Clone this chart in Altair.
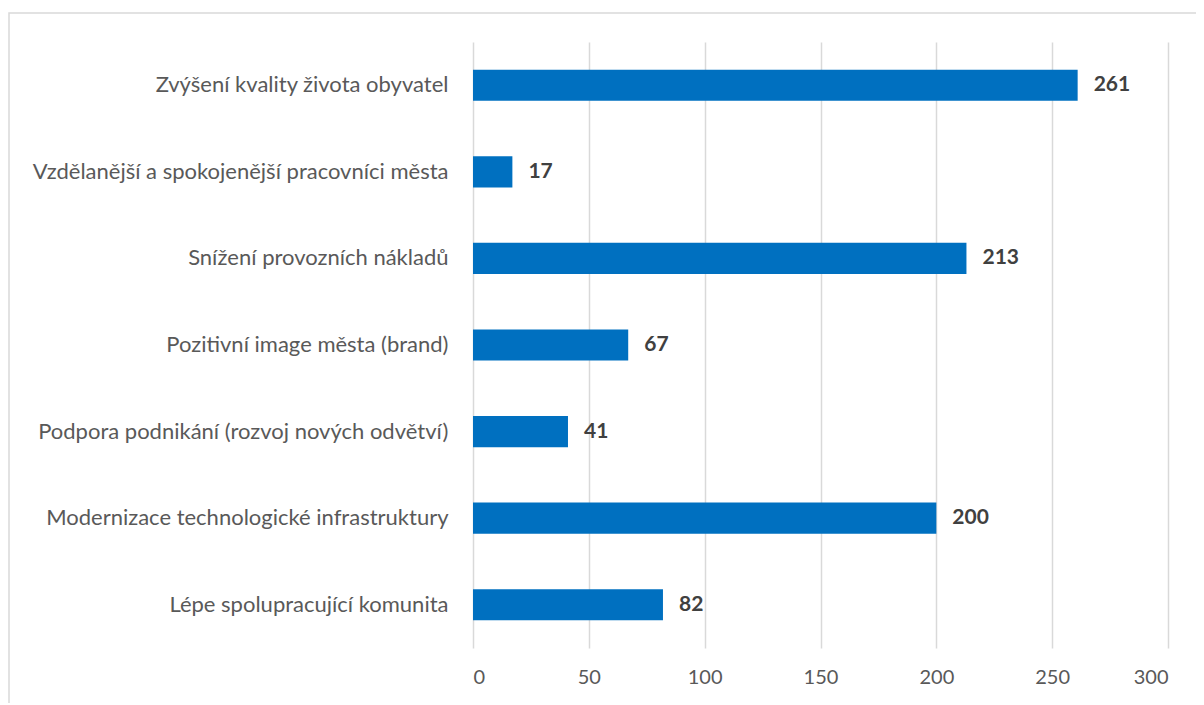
import altair as alt
import pandas as pd

categories = [
    "Zvýšení kvality života obyvatel",
    "Vzdělanější a spokojenější pracovníci města",
    "Snížení provozních nákladů",
    "Pozitivní image města (brand)",
    "Podpora podnikání (rozvoj nových odvětví)",
    "Modernizace technologické infrastruktury",
    "Lépe spolupracující komunita",
]
values = [261, 17, 213, 67, 41, 200, 82]
x_ticks = [0, 50, 100, 150, 200, 250, 300]

df = pd.DataFrame({"cat": categories, "val": values})
FONT = "Lato"

y_enc = alt.Y("cat:N", sort=categories, title=None,
              scale=alt.Scale(paddingInner=0.64, paddingOuter=0.32),
              axis=alt.Axis(ticks=False, domain=False, labelFontSize=22,
                            labelColor="#595959", labelFont=FONT,
                            labelPadding=25, labelLimit=500, grid=False))
x_enc = alt.X("val:Q", title=None, scale=alt.Scale(domain=[0, 300], nice=False),
              axis=alt.Axis(values=x_ticks, ticks=False, tickSize=0, domain=False,
                            grid=True, gridColor="#d9d9d9", gridWidth=1.5,
                            labelFontSize=20, labelColor="#595959", labelFont=FONT,
                            labelPadding=19))

bars = alt.Chart(df).mark_bar(color="#0070C0").encode(x=x_enc, y=y_enc)
labels = alt.Chart(df).mark_text(align="left", baseline="middle", dx=16,
                                 fontSize=21, fontWeight="bold", color="#404040",
                                 font=FONT).encode(
    x="val:Q", y=alt.Y("cat:N", sort=categories), text="val:Q")

frame = alt.Chart(pd.DataFrame({"a": [0]})).mark_rect(
    fill=None, fillOpacity=0, stroke="#d9d9d9", strokeWidth=1.5).encode(
    x=alt.value(-464), x2=alt.value(760), y=alt.value(-29), y2=alt.value(700))

chart = alt.layer(frame, bars, labels).properties(
    width=695, height=606,
    autosize=alt.AutoSizeParams(type="none"),
    padding={"left": 465, "top": 34, "right": 28, "bottom": 55},
).configure_view(stroke=None)

chart.save("out.html", embed_options={"renderer": "svg", "actions": False})
